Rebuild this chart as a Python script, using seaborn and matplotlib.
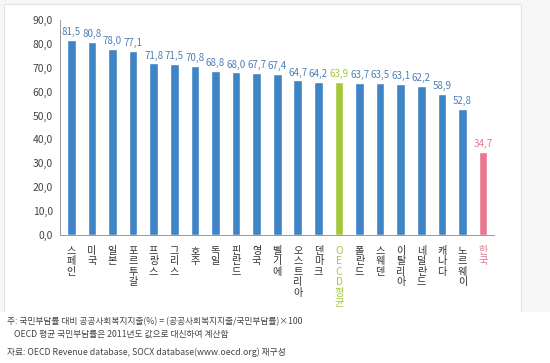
import numpy as np
import pandas as pd
import seaborn as sns
import matplotlib.pyplot as plt
from matplotlib.patches import Rectangle

# =============================================================================
# Data
# =============================================================================

countries = ["스페인", "미국", "일본", "포르투갈", "프랑스", "그리스", "호주", "독일",
             "핀란드", "영국", "벨기에", "오스트리아", "덴마크", "OECD평균", "폴란드",
             "스웨덴", "이탈리아", "네덜란드", "캐나다", "노르웨이", "한국"]
values = [81.5, 80.8, 78.0, 77.1, 71.8, 71.5, 70.8, 68.8, 68.0, 67.7, 67.4,
          64.7, 64.2, 63.9, 63.7, 63.5, 63.1, 62.2, 58.9, 52.8, 34.7]
y_ticks = [0, 10, 20, 30, 40, 50, 60, 70, 80, 90]

blue = "#3f84c5"
green = "#a3c93a"
pink = "#e9778f"
label_blue = "#4f7fb5"

colors = [blue] * len(countries)
colors[countries.index("OECD평균")] = green
colors[countries.index("한국")] = pink
text_colors = [label_blue] * len(countries)
text_colors[countries.index("OECD평균")] = green
text_colors[countries.index("한국")] = pink

df = pd.DataFrame({"country": countries, "value": values})

# =============================================================================
# Plot
# =============================================================================

sns.set_style("white")
plt.rcParams["font.family"] = ["Noto Sans CJK KR", "DejaVu Sans"]

fig = plt.figure(figsize=(5.5, 3.63), dpi=100)
fig.patch.set_facecolor("#f7f7f7")
fig.patches.append(Rectangle((0.008, 0.14), 0.94, 0.85, transform=fig.transFigure,
                             facecolor="white", edgecolor="#e4e4e4", linewidth=0.8,
                             zorder=-10))
fig.patches.append(Rectangle((0.0, 0.0), 1.0, 0.14, transform=fig.transFigure,
                             facecolor="white", edgecolor="none", zorder=-10))

ax = fig.add_axes([0.109, 0.353, 0.79, 0.592])
ax.set_facecolor("none")

sns.barplot(data=df, x="country", y="value", hue="country", palette=colors,
            legend=False, width=0.42, saturation=1, ax=ax)

ax.set_ylim(0, 90)
ax.set_xlim(-0.55, len(countries) - 0.45)
ax.set_yticks(y_ticks)
ax.set_yticklabels([f"{t:.1f}".replace(".", ",") for t in y_ticks],
                   fontsize=7.5, color="#444444")
ax.tick_params(axis="y", length=3, width=0.6, color="#999999", pad=2)

ax.set_xticks(np.arange(len(countries)) + 0.5, minor=True)
ax.set_xticks(np.arange(len(countries)))
ax.set_xticklabels(["\n".join(c) for c in countries], fontsize=7.3, linespacing=1.05,
                   va="top")
ax.tick_params(axis="x", which="major", length=0, pad=8)
ax.tick_params(axis="x", which="minor", length=3, width=0.6, color="#d9b48f",
               direction="out")
for lbl, c in zip(ax.get_xticklabels(), text_colors):
    lbl.set_color(c if c != label_blue else "#333333")

for i, (v, c) in enumerate(zip(values, text_colors)):
    ax.text(i, v + 1.2, f"{v:.1f}".replace(".", ","), ha="center", va="bottom",
            fontsize=7, color=c)

sns.despine(ax=ax, top=True, right=True)
for side in ["left", "bottom"]:
    ax.spines[side].set_color("#999999")
    ax.spines[side].set_linewidth(0.7)

ax.set_xlabel("")
ax.set_ylabel("")

fig.text(0.012, 0.108, "주: 국민부담률 대비 공공사회복지지출(%) = (공공사회복지지출/국민부담률)×100",
         fontsize=6.3, color="#444444")
fig.text(0.026, 0.072, "OECD 평균 국민부담률은 2011년도 값으로 대신하여 계산함",
         fontsize=6.3, color="#444444")
fig.text(0.012, 0.021, "자료: OECD Revenue database, SOCX database(www.oecd.org) 재구성",
         fontsize=6.3, color="#444444")

fig.savefig("out.png", dpi=100)
